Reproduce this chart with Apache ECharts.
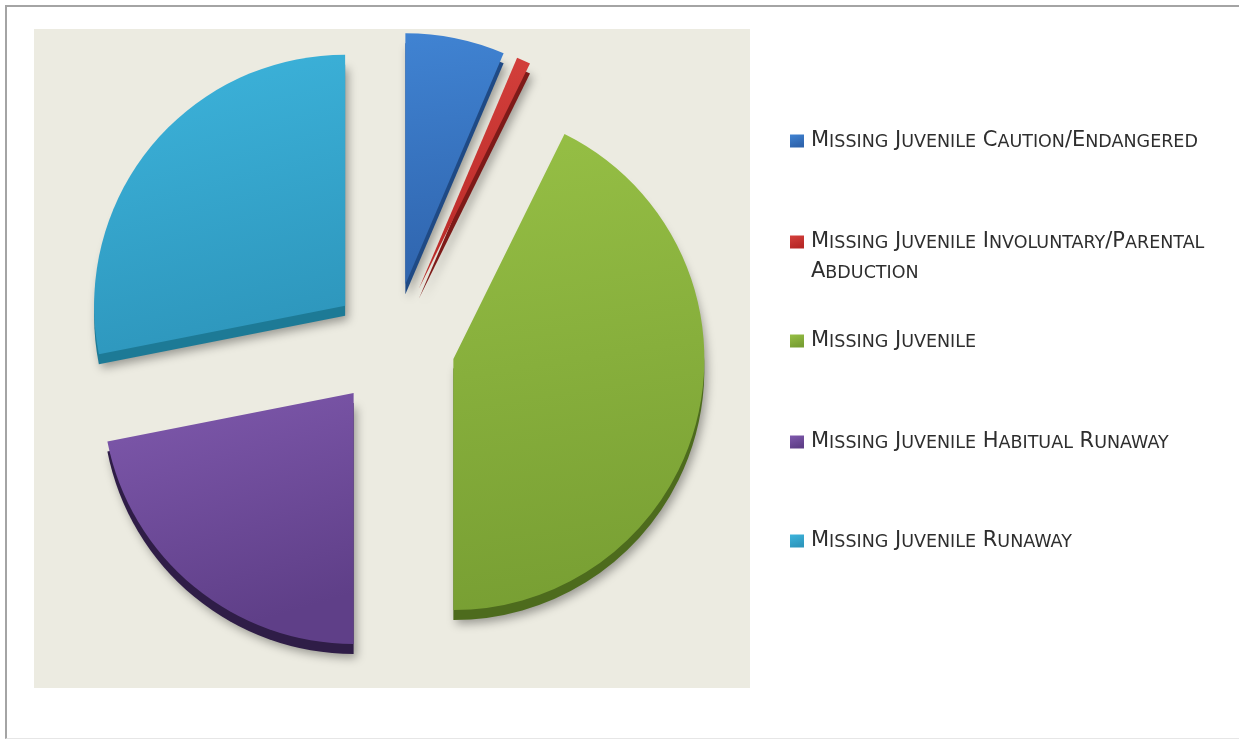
<!DOCTYPE html>
<html>
<head>
<meta charset="utf-8">
<script src="https://cdn.jsdelivr.net/npm/echarts@6/dist/echarts.min.js"></script>
<style>
html, body {margin: 0; padding: 0; background: #fff;}
#chart {position: absolute; left: 0; top: 0; width: 1239px; height: 740px;}
.frame {position: absolute; left: 5px; top: 5px; width: 1240px; height: 731px;
  border-left: 2px solid #a4a4a4; border-top: 2px solid #a4a4a4; border-bottom: 1px solid #e6e6e6;
  pointer-events: none;}
</style>
</head>
<body>
<div id="chart"></div>
<div class="frame"></div>
<script>
// categories, in clockwise order from 12 o'clock
const names = [
  'Missing Juvenile Caution/Endangered',
  'Missing Juvenile Involuntary/Parental Abduction',
  'Missing Juvenile',
  'Missing Juvenile Habitual Runaway',
  'Missing Juvenile Runaway'
]
// share of cases, %
const values = [6.4, 0.9, 42.7, 21.9, 28.1]
// legend text, wrapped like the original (leading blank line keeps the icon on the first line)
const legendLabels = [
  'Missing Juvenile Caution/Endangered',
  '\nMissing Juvenile Involuntary/Parental\nAbduction',
  'Missing Juvenile',
  'Missing Juvenile Habitual Runaway',
  'Missing Juvenile Runaway'
]

const topColors = ['#4083d2', '#d4403c', '#96bf45', '#7f59ad', '#3db4dc']
const bottomColors = ['#2f64ad', '#b72826', '#789f33', '#5f3f88', '#2e97bd']
const sideColors = ['#1f4a85', '#7d1a18', '#4d6b1d', '#2f1d47', '#1d7a96']

const chart = echarts.init(document.getElementById('chart'))

//渐变
const grad = (a, b) => ({
  type: 'linear', x: 0, y: 0, x2: 0.3, y2: 1,
  colorStops: [{offset: 0, color: a}, {offset: 1, color: b}]
})

//小型大写字母: lowercase runs -> {s|UPPER}, the rest -> {c|...}
const smallCaps = (str) => str.split('\n').map(line => {
  let out = '', run = '', type = null
  const flush = () => {
    if (run) out += '{' + type + '|' + run + '}'
    run = ''
  }
  for (const ch of line) {
    const t = (ch >= 'a' && ch <= 'z') ? 's' : 'c'
    if (t !== type) {
      flush()
      type = t
    }
    run += t === 's' ? ch.toUpperCase() : ch
  }
  flush()
  return out
}).join('\n')

const pieBase = {
  type: 'pie',
  radius: 251,
  startAngle: 90,
  clockwise: true,
  selectedMode: 'multiple',
  selectedOffset: 62,
  label: {show: false},
  labelLine: {show: false},
  emphasis: {scale: false, disabled: true},
  animation: false
}

const mainData = names.map((name, i) => ({
  name: name,
  value: values[i],
  selected: true,
  itemStyle: {color: grad(topColors[i], bottomColors[i])}
}))

const sideData = names.map((name, i) => ({
  name: name,
  value: values[i],
  selected: true,
  itemStyle: {
    color: sideColors[i],
    shadowBlur: 10,
    shadowColor: 'rgba(0,0,0,0.35)',
    shadowOffsetX: 3,
    shadowOffsetY: 4
  }
}))

const textFont = 'DejaVu Sans'
// one legend per row so rows sit where the original has them
const legendTops = [126, 197, 326, 427, 526]
const legends = names.map((name, i) => ({
  show: true,
  orient: 'vertical',
  left: 790,
  top: legendTops[i],
  padding: 0,
  itemWidth: 14,
  itemHeight: 13,
  icon: 'rect',
  selectedMode: false,
  data: [name],
  formatter: () => smallCaps(legendLabels[i]),
  textStyle: {
    fontFamily: textFont,
    fontSize: 21,
    lineHeight: 30,
    color: '#2e2e2e',
    padding: [0, 0, 0, 2],
    rich: {
      c: {fontFamily: textFont, fontSize: 21, lineHeight: 30, color: '#2e2e2e'},
      s: {fontFamily: textFont, fontSize: 17.5, lineHeight: 30, color: '#2e2e2e', padding: [2.5, 0, 0, 0]}
    }
  }
}))

chart.setOption({
  animation: false,
  backgroundColor: '#ffffff',
  graphic: [{
    type: 'rect',
    z: -10,
    silent: true,
    shape: {x: 34, y: 29, width: 716, height: 659},
    style: {fill: '#ecebe1'}
  }],
  legend: legends,
  series: [
    {...pieBase, name: 'main', z: 3, center: [393, 345], data: mainData},
    {...pieBase, name: 'side', z: 2, silent: true, center: [393, 355], data: sideData}
  ]
})
</script>
</body>
</html>
